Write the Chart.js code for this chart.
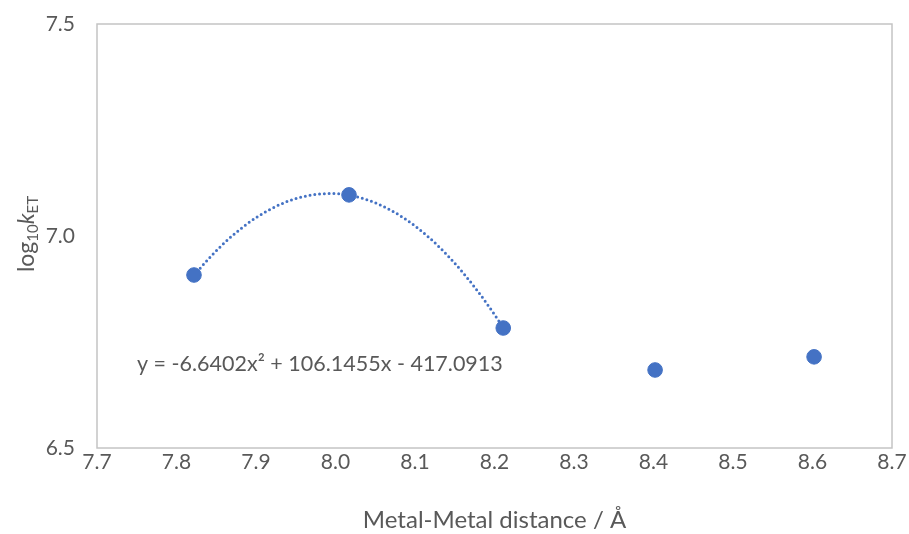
<!DOCTYPE html>
<html>
<head>
<meta charset="utf-8">
<script src="https://cdn.jsdelivr.net/npm/chart.js@4"></script>
<style>
  html, body { margin: 0; padding: 0; background: #fff; }
  #wrap { width: 909px; height: 534px; }
</style>
</head>
<body>
<div id="wrap"><canvas id="c" width="909" height="534"></canvas></div>
<script>
const distances = [7.822, 8.017, 8.211, 8.402, 8.602];
const logK = [6.908, 7.097, 6.783, 6.684, 6.715];

// quadratic trendline printed on the chart: a*x^2 + b*x + c
const fitCoef = [-6.6402, 106.1455, -417.0913];
const fitRange = [7.822, 8.211];
const fitLabel = 'y = -6.6402x\u00b2 + 106.1455x - 417.0913';

const xTicks = [7.7, 8.7, 0.1];   // min, max, step
const yTicks = [6.5, 7.5, 0.5];

const blue = '#4472C4';
const grey = '#595959';
const fontFam = 'Lato, "Open Sans", sans-serif';

// trendline sampled from the printed equation
let trend = [];
for (let i = 0; i <= 60; i++) {
  let x = fitRange[0] + (fitRange[1] - fitRange[0]) * i / 60;
  trend.push({x: x, y: fitCoef[0] * x * x + fitCoef[1] * x + fitCoef[2]});
}

const frameAndText = {
  id: 'frameAndText',
  beforeDatasetsDraw(chart) {
    const ctx = chart.ctx;
    const a = chart.chartArea;
    ctx.save();
    ctx.strokeStyle = '#c4c4c4';
    ctx.lineWidth = 1.5;
    ctx.strokeRect(a.left, a.top, a.right - a.left, a.bottom - a.top);
    ctx.restore();
  },
  afterDraw(chart) {
    const ctx = chart.ctx;
    const a = chart.chartArea;
    ctx.save();
    ctx.fillStyle = grey;
    ctx.textBaseline = 'middle';

    // equation label
    ctx.font = '21.5px ' + fontFam;
    ctx.textAlign = 'left';
    ctx.fillText(fitLabel, 137, 364);

    // x title
    ctx.font = '24px ' + fontFam;
    ctx.textAlign = 'center';
    ctx.fillText('Metal-Metal distance / \u00c5', (a.left + a.right) / 2, 520);

    // y title: log10 k ET with subscripts
    const parts = [
      {t: 'log', f: '23px ' + fontFam, dy: 0},
      {t: '10', f: '15px ' + fontFam, dy: 6},
      {t: 'k', f: 'italic 23px ' + fontFam, dy: 0},
      {t: 'ET', f: '15px ' + fontFam, dy: 6}
    ];
    let w = 0;
    parts.forEach(p => { ctx.font = p.f; p.w = ctx.measureText(p.t).width; w += p.w; });
    ctx.translate(27, 234);
    ctx.rotate(-Math.PI / 2);
    ctx.textAlign = 'left';
    let x = -w / 2;
    parts.forEach(p => { ctx.font = p.f; ctx.fillText(p.t, x, p.dy); x += p.w; });
    ctx.restore();
  }
};

new Chart(document.getElementById('c'), {
  type: 'scatter',
  data: {
    datasets: [
      {
        label: 'data',
        data: distances.map((d, i) => ({x: d, y: logK[i]})),
        backgroundColor: blue,
        borderColor: blue,
        pointRadius: 7.3,
        pointHoverRadius: 7.3,
        order: 1
      },
      {
        label: 'fit',
        type: 'line',
        data: trend,
        borderColor: blue,
        borderWidth: 3,
        borderDash: [0, 4.8],
        borderCapStyle: 'round',
        pointRadius: 0,
        fill: false,
        order: 2
      }
    ]
  },
  options: {
    responsive: false,
    animation: false,
    layout: {padding: {left: 0, right: 17, top: 24, bottom: 0}},
    plugins: {legend: {display: false}, tooltip: {enabled: false}},
    scales: {
      x: {
        type: 'linear',
        min: xTicks[0], max: xTicks[1],
        grid: {display: false, drawTicks: false},
        border: {display: false},
        afterFit(s) { s.height = 86; s.paddingLeft = 0; s.paddingRight = 0; },
        ticks: {
          stepSize: xTicks[2], color: grey, padding: 2,
          font: {family: fontFam, size: 21},
          callback: v => v.toFixed(1)
        }
      },
      y: {
        min: yTicks[0], max: yTicks[1],
        grid: {display: false, drawTicks: false},
        border: {display: false},
        afterFit(s) { s.width = 97; s.paddingTop = 0; s.paddingBottom = 0; },
        ticks: {
          stepSize: yTicks[2], color: grey, padding: 22,
          font: {family: fontFam, size: 21},
          callback: v => v.toFixed(1)
        }
      }
    }
  },
  plugins: [frameAndText]
});
</script>
</body>
</html>
